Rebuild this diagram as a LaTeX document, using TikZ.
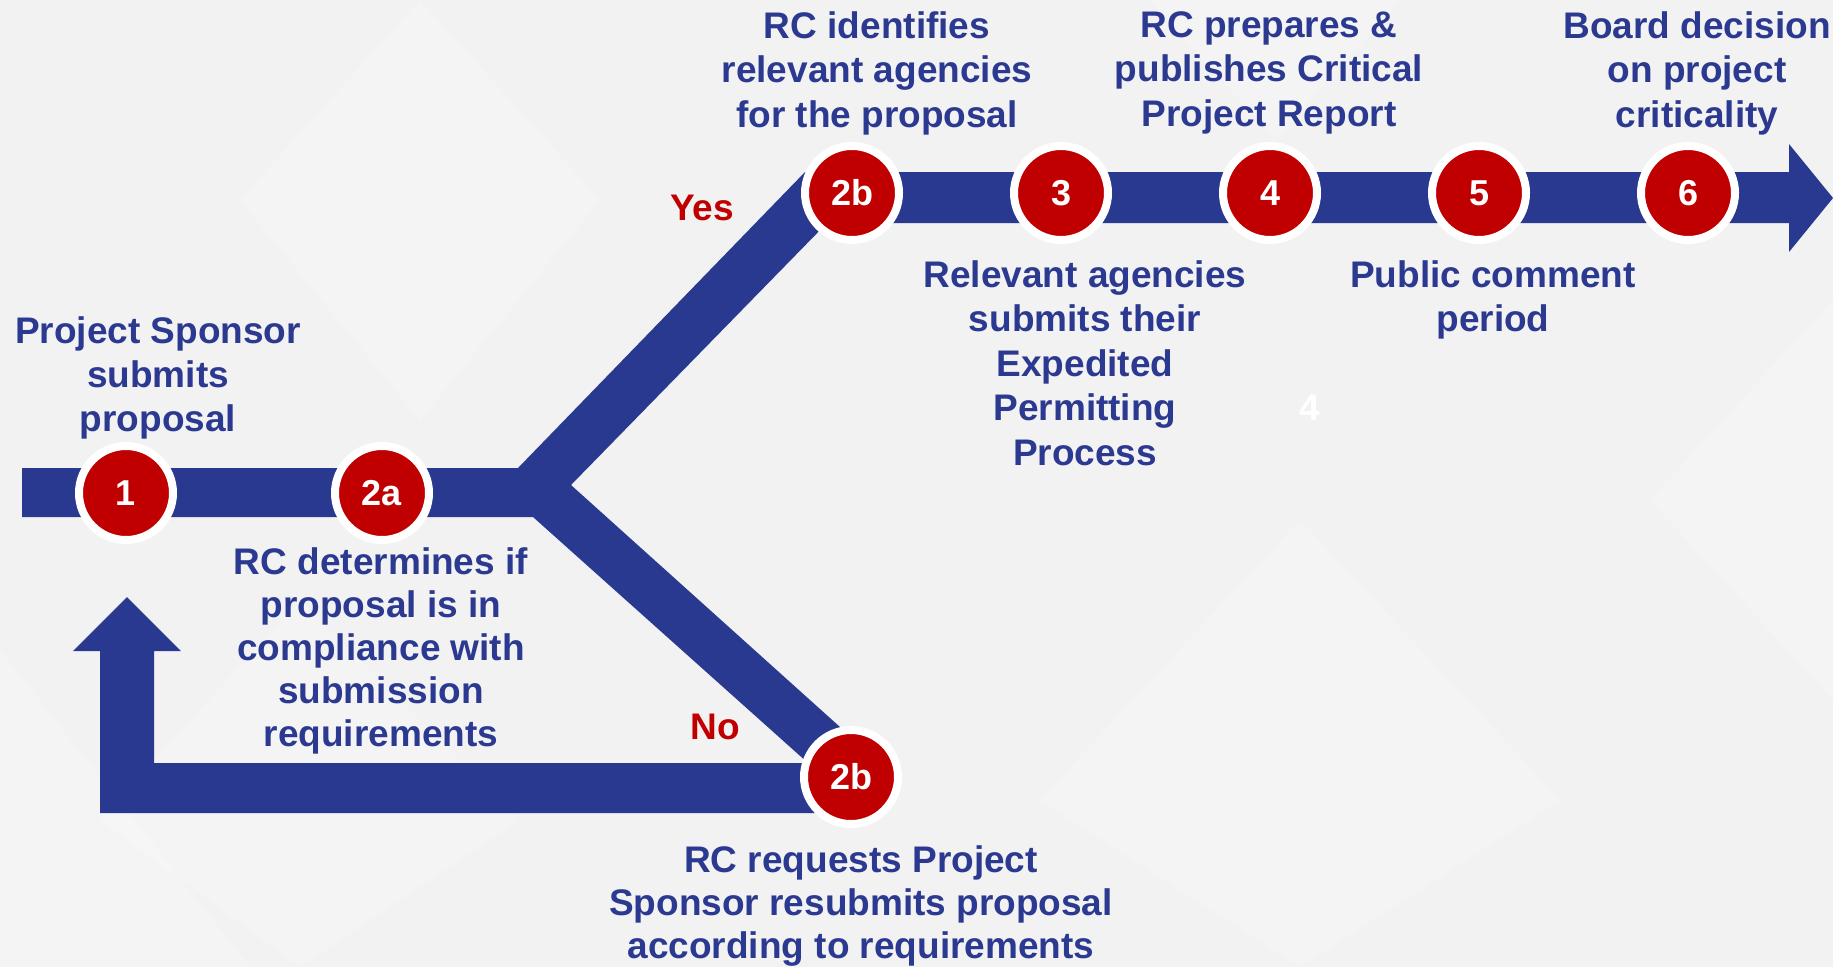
\documentclass[tikz,border=0pt]{standalone}
\usepackage{fontspec}
\setmainfont{Liberation Sans}
\definecolor{bandblue}{RGB}{40,57,143}
\definecolor{txtblue}{RGB}{43,57,144}
\definecolor{stepred}{RGB}{192,0,0}
\definecolor{bggray}{RGB}{242,242,242}
\begin{document}
\begin{tikzpicture}[x=1pt,y=-1pt,
  stepdot/.style={circle,fill=stepred,draw=white,line width=8pt,minimum size=94pt,inner sep=0pt,text=white,font=\fontsize{36}{40}\selectfont\bfseries},
  desc/.style={align=center,anchor=north,inner sep=0pt,text=txtblue,font=\fontsize{37}{44.5}\selectfont\bfseries},
  answer/.style={anchor=base,inner sep=0pt,text=stepred,font=\fontsize{37}{44}\selectfont\bfseries},
  facet/.style={fill=white,opacity=0.22}]
% background
\fill[bggray] (0,0) rectangle (1833,967);
\useasboundingbox (0,0) rectangle (1833,967);
\fill[facet] (0,650) -- (250,967) -- (0,967) -- cycle;
\fill[facet] (420,0) -- (600,200) -- (420,420) -- (240,200) -- cycle;
\fill[facet] (1150,0) -- (1400,0) -- (1275,140) -- cycle;
\fill[facet] (1300,520) -- (1560,800) -- (1300,967) -- (1040,800) -- cycle;
\fill[facet] (1833,300) -- (1833,700) -- (1650,500) -- cycle;
\fill[facet] (300,600) -- (520,820) -- (300,967) -- (100,820) -- cycle;
% blue route
\fill[bandblue]
  (22,468) -- (518,468) -- (805,172) -- (1789,172) -- (1789,144) -- (1833,198)
  -- (1789,252) -- (1789,223) -- (827,223) -- (571,485) -- (533,517) -- (22,517) -- cycle
  (571,485) -- (880,763) -- (860,813) -- (100,813) -- (100,651) -- (73,651)
  -- (127,597) -- (181,651) -- (154,651) -- (154,763) -- (808,763) -- (533,517) -- cycle;
% step circles
\node[stepdot] (s1)  at (126,493) {1};
\node[stepdot] (s2a) at (382,493) {2a};
\node[stepdot] (s2b) at (852,193) {2b};
\node[stepdot] (s3)  at (1061,193) {3};
\node[stepdot] (s4)  at (1270,193) {4};
\node[stepdot] (s5)  at (1479,193) {5};
\node[stepdot] (s6)  at (1688,193) {6};
\node[stepdot] (s2bl) at (851,777) {2b};
% descriptions
\node[desc,font=\fontsize{37}{44}\selectfont\bfseries] (t1) at (158,316) {Project Sponsor\\submits\\proposal};
\node[desc,font=\fontsize{37}{43}\selectfont\bfseries] (t2a) at (381,547) {RC determines if\\proposal is in\\compliance with\\submission\\requirements};
\node[desc] (t2b) at (877,11) {RC identifies\\relevant agencies\\for the proposal};
\node[desc] (t4) at (1269,11) {RC prepares \&\\publishes Critical\\Project Report};
\node[desc] (t6) at (1697,11) {Board decision\\on project\\criticality};
\node[desc] (t3) at (1085,260) {Relevant agencies\\submits their\\Expedited\\Permitting\\Process};
\node[desc,font=\fontsize{37}{44}\selectfont\bfseries] (t5) at (1493,260) {Public comment\\period};
\node[desc,font=\fontsize{37}{43}\selectfont\bfseries] (t2bl) at (861,845) {RC requests Project\\Sponsor resubmits proposal\\according to requirements};
\node[answer] (yes) at (702,220) {Yes};
\node[answer] (no) at (715,739) {No};
\node[answer,text=white] (ghost) at (1310,420) {4};
\end{tikzpicture}
\end{document}
